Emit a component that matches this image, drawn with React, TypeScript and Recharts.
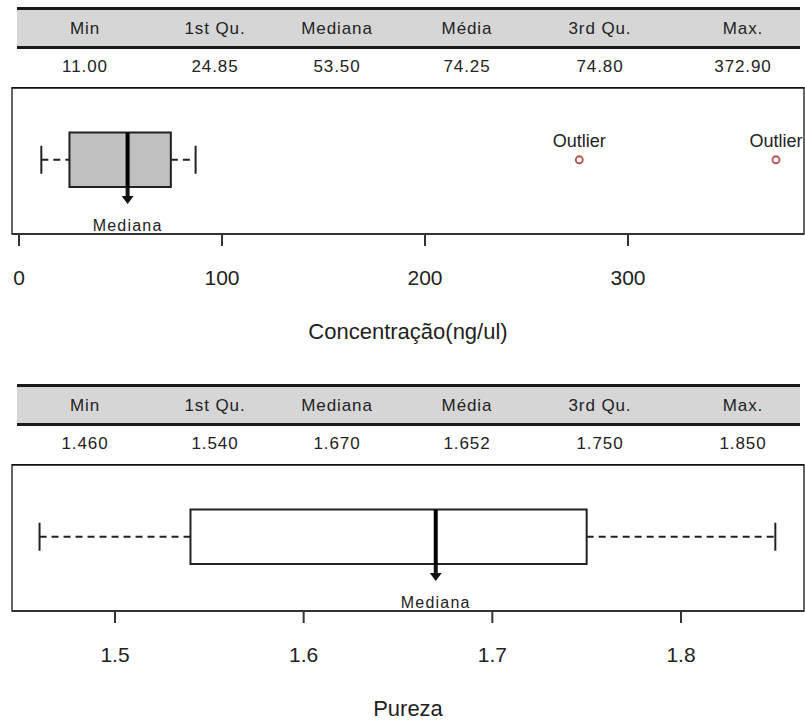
import React from 'react';
import {
  ComposedChart,
  XAxis,
  YAxis,
  Scatter,
  ReferenceArea,
  ReferenceLine,
  ReferenceDot,
} from 'recharts';

const statLabels = ['Min', '1st Qu.', 'Mediana', 'Média', '3rd Qu.', 'Max.'];

const concStats = ['11.00', '24.85', '53.50', '74.25', '74.80', '372.90'];
const concBox = [24.85, 53.5, 74.8]; // q1, median, q3
const concWhiskers = [11, 87];
const concOutliers = [276, 372.9];
const concTicks = [0, 100, 200, 300];

const purStats = ['1.460', '1.540', '1.670', '1.652', '1.750', '1.850'];
const purBox = [1.54, 1.67, 1.75];
const purWhiskers = [1.46, 1.85];
const purOutliers: number[] = [];
const purTicks = [1.5, 1.6, 1.7, 1.8];

const FONT = '"Liberation Sans", Arial, sans-serif';
const colCenters = [85, 215, 337, 467, 600, 743];

// y positions of the box inside the panel (hidden 0..100 axis)
const BOX_LO = 32;
const BOX_HI = 69;
const MID = 50.5;

const MedianArrow = (props: any) => {
  const { cx, cy } = props;
  if (cx == null || cy == null) return null;
  return (
    <g>
      <rect x={cx - 2} y={cy} width={4} height={10} fill="#111" />
      <polygon points={`${cx - 6},${cy + 9} ${cx + 6},${cy + 9} ${cx},${cy + 17}`} fill="#111" />
      <text
        x={cx}
        y={cy + 44}
        textAnchor="middle"
        fontSize={16}
        letterSpacing={1.2}
        fill="#222"
        fontFamily={FONT}
      >
        Mediana
      </text>
    </g>
  );
};

const WhiskerCap = (props: any) => {
  const { cx, cy } = props;
  if (cx == null || cy == null) return null;
  return <line x1={cx} x2={cx} y1={cy - 14} y2={cy + 14} stroke="#222" strokeWidth={2} />;
};

const OutlierDot = (props: any) => {
  const { cx, cy } = props;
  if (cx == null || cy == null) return null;
  return (
    <g>
      <circle cx={cx} cy={cy} r={3.5} fill="none" stroke="#b5504f" strokeWidth={1.8} />
      <text x={cx} y={cy - 13} textAnchor="middle" fontSize={18} fill="#222" fontFamily={FONT}>
        Outlier
      </text>
    </g>
  );
};

interface SectionProps {
  top: number;
  stats: string[];
  box: number[];
  whiskers: number[];
  outliers: number[];
  ticks: number[];
  domain: [number, number];
  title: string;
  boxFill: string;
  tickFmt: (v: number) => string;
}

function Section({ top, stats, box, whiskers, outliers, ticks, domain, title, boxFill, tickFmt }: SectionProps) {
  const [q1, med, q3] = box;
  const [lo, hi] = whiskers;
  const capData = whiskers.map((v) => ({ x: v, y: MID }));
  const outlierData = outliers.map((v) => ({ x: v, y: MID }));
  const cell: React.CSSProperties = {
    position: 'absolute',
    width: 120,
    textAlign: 'center',
    fontSize: 17,
    letterSpacing: 0.9,
    color: '#222',
    fontFamily: FONT,
  };
  return (
    <div style={{ position: 'absolute', left: 0, top, width: 805, height: 350 }}>
      <div
        style={{
          position: 'absolute',
          left: 17,
          top: 7,
          width: 783,
          height: 42,
          boxSizing: 'border-box',
          background: '#d6d6d6',
          borderTop: '3px solid #1a1a1a',
          borderBottom: '3px solid #1a1a1a',
        }}
      />
      {statLabels.map((s, i) => (
        <div key={s} style={{ ...cell, left: colCenters[i] - 60, top: 18, lineHeight: '22px' }}>
          {s}
        </div>
      ))}
      {stats.map((s, i) => (
        <div key={i} style={{ ...cell, left: colCenters[i] - 60, top: 56, lineHeight: '22px' }}>
          {s}
        </div>
      ))}
      <div style={{ position: 'absolute', left: 0, top: 87 }}>
        <ComposedChart width={805} height={262} margin={{ top: 0, right: 1, bottom: 0, left: 12 }}>
          <XAxis
            type="number"
            dataKey="x"
            domain={domain}
            ticks={ticks}
            allowDataOverflow
            height={115}
            axisLine={{ stroke: '#333', strokeWidth: 2 }}
            tickLine={{ stroke: '#333', strokeWidth: 2 }}
            tickSize={12}
            tickMargin={24}
            tickFormatter={tickFmt}
            tick={{ fontSize: 21, fill: '#222', fontFamily: FONT }}
            label={{
              value: title,
              position: 'insideBottom',
              offset: 10,
              fontSize: 22,
              fill: '#222',
              fontFamily: FONT,
            }}
          />
          <YAxis type="number" dataKey="y" domain={[0, 100]} hide />
          <ReferenceArea x1={domain[0]} x2={domain[1]} y1={0} y2={100} fill="none" stroke="#333" strokeWidth={1.5} />
          <ReferenceLine y={100} stroke="#111" strokeWidth={3.5} />
          <ReferenceLine segment={[{ x: lo, y: MID }, { x: q1, y: MID }]} stroke="#222" strokeWidth={2} strokeDasharray="7 5" />
          <ReferenceLine segment={[{ x: q3, y: MID }, { x: hi, y: MID }]} stroke="#222" strokeWidth={2} strokeDasharray="7 5" />
          <ReferenceArea x1={q1} x2={q3} y1={BOX_LO} y2={BOX_HI} fill={boxFill} fillOpacity={1} stroke="#222" strokeWidth={2} />
          <ReferenceLine segment={[{ x: med, y: BOX_LO }, { x: med, y: BOX_HI }]} stroke="#000" strokeWidth={4} />
          <ReferenceDot x={med} y={BOX_LO} shape={MedianArrow} />
          <Scatter data={capData} shape={WhiskerCap} isAnimationActive={false} />
          {outlierData.length > 0 && (
            <Scatter data={outlierData} shape={OutlierDot} isAnimationActive={false} />
          )}
        </ComposedChart>
      </div>
    </div>
  );
}

export default function App() {
  return (
    <div
      style={{
        position: 'absolute',
        left: 0,
        top: 0,
        width: 805,
        height: 722,
        overflow: 'hidden',
        background: '#fff',
        fontFamily: FONT,
      }}
    >
      <Section
        top={0}
        stats={concStats}
        box={concBox}
        whiskers={concWhiskers}
        outliers={concOutliers}
        ticks={concTicks}
        domain={[-3.45, 386.7]}
        title="Concentração(ng/ul)"
        boxFill="#c0c0c0"
        tickFmt={(v) => String(v)}
      />
      <Section
        top={377}
        stats={purStats}
        box={purBox}
        whiskers={purWhiskers}
        outliers={purOutliers}
        ticks={purTicks}
        domain={[1.4454, 1.8652]}
        title="Pureza"
        boxFill="#ffffff"
        tickFmt={(v) => v.toFixed(1)}
      />
    </div>
  );
}
